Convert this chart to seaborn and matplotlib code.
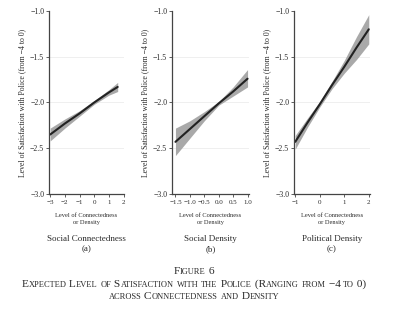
import numpy as np
import pandas as pd
import matplotlib
matplotlib.use("Agg")
import matplotlib.pyplot as plt
import seaborn as sns

# ---- data ----
a_x = [-3, -2, -1, 0, 1, 1.6]
a_y = [-2.35, -2.23, -2.12, -2.00, -1.89, -1.83]
a_lo = [-2.42, -2.28, -2.15, -2.02, -1.92, -1.88]
a_hi = [-2.28, -2.18, -2.09, -1.98, -1.86, -1.78]

b_x = [-1.5, -1.0, -0.5, 0.0, 0.5, 1.0]
b_y = [-2.43, -2.29, -2.15, -2.01, -1.88, -1.74]
b_lo = [-2.58, -2.39, -2.20, -2.03, -1.93, -1.83]
b_hi = [-2.28, -2.20, -2.10, -1.99, -1.83, -1.64]

c_x = [-1, -0.5, 0, 0.5, 1, 1.5, 2]
c_y = [-2.43, -2.22, -2.02, -1.81, -1.61, -1.40, -1.20]
c_lo = [-2.51, -2.27, -2.05, -1.85, -1.68, -1.53, -1.36]
c_hi = [-2.36, -2.17, -1.99, -1.77, -1.54, -1.28, -1.04]

a_ticks = [-3, -2, -1, 0, 1, 2]
b_ticks = [-1.5, -1.0, -0.5, 0.0, 0.5, 1.0]
c_ticks = [-1, 0, 1, 2]
y_ticks = [-3.0, -2.5, -2.0, -1.5, -1.0]

titles = ["Social Connectedness", "Social Density", "Political Density"]
letters = ["(a)", "(b)", "(c)"]
ylabel = "Level of Satisfaction with Police (from \u22124 to 0)"
xlabel = "Level of Connectedness\nor Density"

sns.set_theme(style="white")
plt.rcParams['font.family'] = ['Liberation Serif', 'DejaVu Serif']
plt.rcParams['axes.unicode_minus'] = True

fig = plt.figure(figsize=(4.04, 3.36), dpi=100)
W, H = 404, 336

panels = [
    (a_x, a_y, a_lo, a_hi, a_ticks, (-3.08, 2.03), [str(t).replace('-', '\u2212') for t in a_ticks], 49, 124),
    (b_x, b_y, b_lo, b_hi, b_ticks, (-1.62, 1.05), [f"{t:.1f}".replace('-', '\u2212') for t in b_ticks], 172, 249),
    (c_x, c_y, c_lo, c_hi, c_ticks, (-1.05, 2.05), [str(t).replace('-', '\u2212') for t in c_ticks], 294, 370),
]

top_px, bot_px = 11, 194
gray = "#444444"
txt = "#2a2a2a"
for i, (x, y, lo, hi, ticks, xlim, tlabels, l, r) in enumerate(panels):
    ax = fig.add_axes([l / W, 1 - bot_px / H, (r - l) / W, (bot_px - top_px) / H])
    df = pd.DataFrame({"x": x, "y": y})
    ax.fill_between(x, lo, hi, color="#a0a0a0", alpha=0.9, linewidth=0)
    sns.lineplot(data=df, x="x", y="y", ax=ax, color="#222222", linewidth=1.5)
    ax.set_xlim(*xlim)
    ax.set_ylim(-3.0, -1.0)
    ax.set_yticks(y_ticks)
    ax.set_yticklabels([f"{v:.1f}".replace('-', '\u2212') for v in y_ticks])
    ax.set_xticks(ticks)
    ax.set_xticklabels(tlabels)
    for v in [-2.5, -2.0, -1.5]:
        ax.axhline(v, color="#ececec", linewidth=0.6, zorder=0)
    for s in ["top", "right"]:
        ax.spines[s].set_visible(False)
    for s in ["left", "bottom"]:
        ax.spines[s].set_color(gray)
        ax.spines[s].set_linewidth(0.9)
    ax.tick_params(axis="y", which="both", length=2, width=0.6, color=gray,
                   labelsize=5.6, labelcolor=txt, pad=1.5, left=True)
    ax.tick_params(axis="x", which="both", length=2, width=0.6, color=gray,
                   labelsize=5.0, labelcolor=txt, pad=2, bottom=True)
    ax.set_ylabel(ylabel, fontsize=5.6, color=txt, labelpad=3)
    ax.set_xlabel(xlabel, fontsize=4.6, color=txt, labelpad=6, linespacing=1.6)
    cx = (l + r) / 2 / W
    fig.text(cx, 1 - 239 / H, titles[i], ha="center", va="center", fontsize=6.5, color=txt)
    fig.text(cx, 1 - 249 / H, letters[i], ha="center", va="center", fontsize=6.5, color=txt)

# ---- caption in small caps ----
fig.canvas.draw()
renderer = fig.canvas.get_renderer()

def small_caps(line, y_px, center_px=194, big=8.2, small=6.0):
    runs = []
    cur, cur_up = "", None
    for ch in line:
        up = not ch.islower()
        if cur_up is None or up == cur_up:
            cur += ch
        else:
            runs.append((cur, cur_up))
            cur = ch
        cur_up = up
    if cur:
        runs.append((cur, cur_up))
    texts = []
    widths = []
    for s, up in runs:
        t = fig.text(0, 0, s if up else s.upper(), fontsize=big if up else small,
                     ha="left", va="baseline", color=txt)
        bb = t.get_window_extent(renderer)
        texts.append(t)
        widths.append(bb.width)
    total = sum(widths)
    xpos = center_px - total / 2
    for t, w in zip(texts, widths):
        t.set_position((xpos / W, 1 - y_px / H))
        xpos += w

small_caps("Figure 6", 274)
small_caps("Expected Level of Satisfaction with the Police (Ranging from \u22124 to 0)", 287)
small_caps("across Connectedness and Density", 299)

fig.savefig("out.png", dpi=100)
